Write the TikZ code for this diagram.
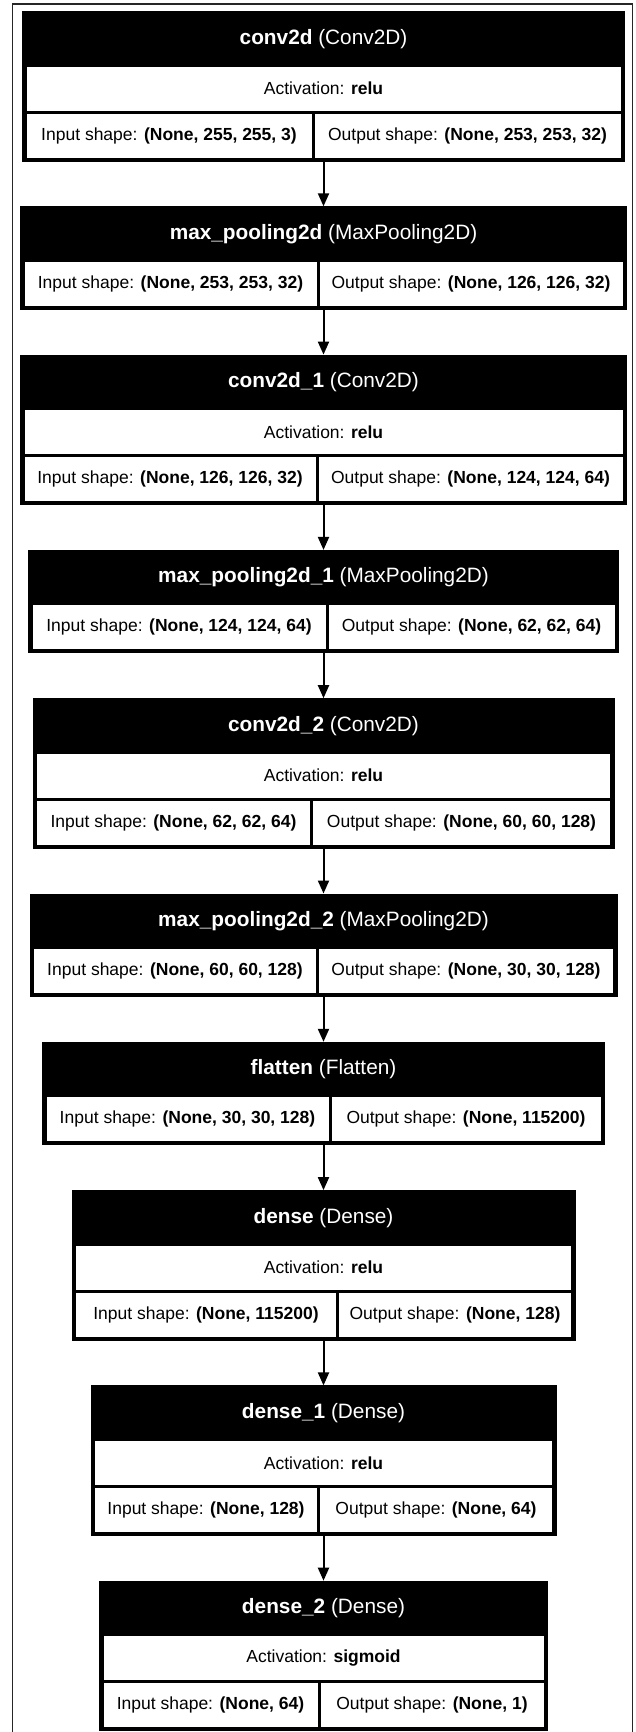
\documentclass[tikz,border=0pt]{standalone}
\usepackage{fontspec}
\setmainfont{Liberation Sans}
\usetikzlibrary{positioning}
\usetikzlibrary{calc}
\usetikzlibrary{arrows.meta}

% one layer box: [placement]{name}{width}{left cell width}{title}{activation}{input}{output}
\newcommand{\kerasblock}[8][]{%
  \ifx\relax#6\relax\def\blkh{103.5}\else\def\blkh{150.5}\fi
  \node[layer,minimum width=#3,minimum height=\blkh,#1] (#2) {};
  \node[title] (#2h) at ($(#2.north)+(0,-27.75)$) {#5};
  \ifx\relax#6\relax
    \coordinate (#2r) at ($(#2.north west)+(4.5,-55.5)$);
  \else
    \node[cell,minimum width=#3-9] (#2a) at ($(#2.north west)+(4.5,-55.5)$) {Activation: \textbf{#6}};
    \coordinate (#2r) at ($(#2.north west)+(4.5,-102.5)$);
  \fi
  \node[cell,minimum width=#4-6] (#2i) at (#2r) {Input shape: \textbf{#7}};
  \node[cell,minimum width=#3-#4-6] (#2o) at ($(#2r)+(#4-3,0)$) {Output shape: \textbf{#8}};
}

\begin{document}
\begin{tikzpicture}
    [
    x=1pt,y=1pt,
    layer/.style={fill=black,draw=none,inner sep=0pt,outer sep=0pt},
    title/.style={text=white,inner sep=0pt,font=\fontsize{20.8}{25}\selectfont},
    cell/.style={fill=white,inner sep=0pt,outer sep=0pt,anchor=north west,minimum height=44,font=\fontsize{17.5}{21}\selectfont},
    flow/.style={-{Triangle[length=13pt,width=11pt]},line width=2pt},
    frame/.style={draw=black!85,line width=1.3pt},
    ]
    \useasboundingbox (0,0) rectangle (636,-1732);
    \draw[frame] (12.5,-4) rectangle (632.5,-1750);

    \kerasblock[anchor=north,at={(323.5,-11)}]{l1}{603}{291}{\textbf{conv2d} (Conv2D)}{relu}{(None, 255, 255, 3)}{(None, 253, 253, 32)}
    \kerasblock[below=44.8pt of l1]{l2}{607}{298}{\textbf{max\_pooling2d} (MaxPooling2D)}{}{(None, 253, 253, 32)}{(None, 126, 126, 32)}
    \kerasblock[below=44.8pt of l2]{l3}{607}{297}{\textbf{conv2d\_1} (Conv2D)}{relu}{(None, 126, 126, 32)}{(None, 124, 124, 64)}
    \kerasblock[below=44.8pt of l3]{l4}{591}{299}{\textbf{max\_pooling2d\_1} (MaxPooling2D)}{}{(None, 124, 124, 64)}{(None, 62, 62, 64)}
    \kerasblock[below=44.8pt of l4]{l5}{582}{279}{\textbf{conv2d\_2} (Conv2D)}{relu}{(None, 62, 62, 64)}{(None, 60, 60, 128)}
    \kerasblock[below=44.8pt of l5]{l6}{588}{288}{\textbf{max\_pooling2d\_2} (MaxPooling2D)}{}{(None, 60, 60, 128)}{(None, 30, 30, 128)}
    \kerasblock[below=44.8pt of l6]{l7}{563}{288}{\textbf{flatten} (Flatten)}{}{(None, 30, 30, 128)}{(None, 115200)}
    \kerasblock[below=44.8pt of l7]{l8}{504}{266}{\textbf{dense} (Dense)}{relu}{(None, 115200)}{(None, 128)}
    \kerasblock[below=44.8pt of l8]{l9}{466}{228}{\textbf{dense\_1} (Dense)}{relu}{(None, 128)}{(None, 64)}
    \kerasblock[below=44.8pt of l9]{l10}{449}{220}{\textbf{dense\_2} (Dense)}{sigmoid}{(None, 64)}{(None, 1)}

    \draw [flow] (l1) to (l2);
    \draw [flow] (l2) to (l3);
    \draw [flow] (l3) to (l4);
    \draw [flow] (l4) to (l5);
    \draw [flow] (l5) to (l6);
    \draw [flow] (l6) to (l7);
    \draw [flow] (l7) to (l8);
    \draw [flow] (l8) to (l9);
    \draw [flow] (l9) to (l10);
\end{tikzpicture}
\end{document}
